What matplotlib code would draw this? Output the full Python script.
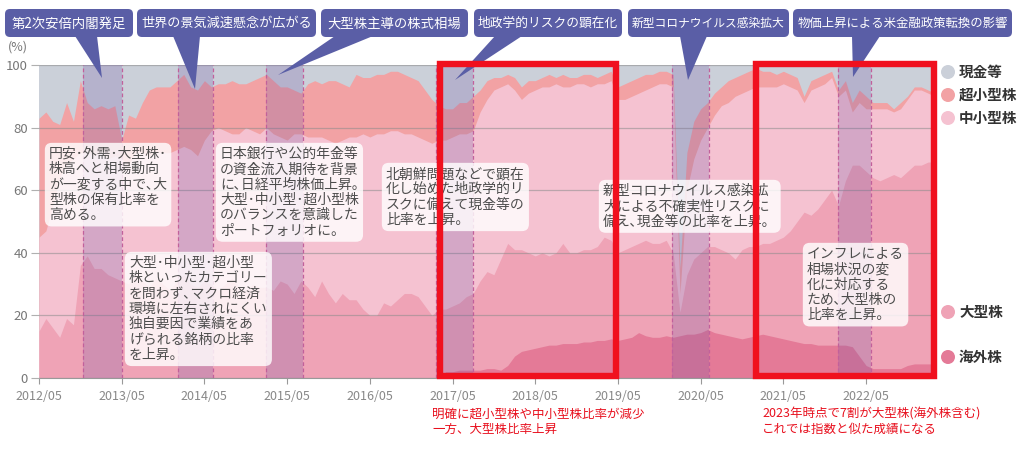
import matplotlib
matplotlib.use("Agg")
import matplotlib.pyplot as plt
from matplotlib.patches import FancyBboxPatch, Polygon, Rectangle, Circle
import numpy as np

plt.rcParams['font.family'] = ['Noto Sans CJK JP', 'DejaVu Sans']

# 月次データ 2012/05 ～ 2023/03 (各資産の積み上げ上端, %)
# 超小型株の上端 (= 100 - 現金等)
edge_cash = [
    83, 85, 82, 81, 88, 82, 95, 88, 86, 87,
    86, 87, 76, 84, 83, 88, 92, 93, 93, 93,
    95, 97, 93, 92, 95, 93, 94, 94, 95, 94,
    94, 95, 96, 97, 95, 93, 93, 92, 91, 94,
    95, 94, 95, 95, 94, 93, 97, 96, 96, 97,
    97, 98, 98, 97, 96, 95, 92, 89, 87, 86,
    86, 88, 88, 90, 92, 95, 96, 96, 97, 96,
    93, 95, 95, 96, 97, 96, 97, 96, 96, 97,
    97, 96, 97, 98, 93, 94, 95, 96, 97, 97,
    98, 98, 97, 35, 72, 82, 86, 88, 91, 93,
    95, 96, 97, 98, 99, 98, 98, 97, 98, 97,
    96, 90, 95, 96, 97, 98, 92, 95, 88, 92,
    90, 88, 88, 88, 86, 88, 90, 93, 93, 92, 91,
]
# 中小型株の上端
edge_chusho = [
    45, 47, 55, 64, 68, 70, 72, 72, 71, 72,
    70, 71, 70, 68, 72, 72, 71, 72, 72, 72,
    73, 74, 73, 71, 76, 79, 80, 79, 78, 78,
    80, 79, 78, 80, 78, 77, 76, 78, 78, 77,
    77, 77, 76, 75, 76, 77, 77, 78, 77, 78,
    78, 79, 79, 78, 78, 77, 76, 75, 76, 76,
    77, 78, 78, 79, 85, 89, 92, 93, 94, 92,
    89, 91, 92, 93, 93, 94, 93, 93, 94, 94,
    93, 94, 94, 95, 89, 89, 90, 91, 92, 93,
    94, 94, 93, 27, 60, 70, 76, 80, 84, 87,
    88, 90, 91, 92, 93, 93, 93, 93, 94, 93,
    92, 88, 92, 93, 94, 96, 90, 92, 85, 88,
    86, 86, 86, 86, 85, 86, 89, 92, 92, 91, 90,
]
# 大型株の上端
edge_ogata = [
    15, 19, 16, 13, 19, 17, 36, 39, 35, 35,
    33, 32, 31, 30, 33, 31, 29, 32, 30, 28,
    31, 33, 30, 29, 31, 30, 28, 30, 32, 29,
    28, 30, 29, 29, 28, 31, 30, 27, 31, 29,
    26, 31, 27, 24, 27, 25, 25, 22, 20, 20,
    24, 23, 25, 27, 27, 26, 23, 20, 22, 22,
    23, 24, 26, 27, 31, 34, 33, 38, 43, 41,
    41, 40, 39, 40, 39, 40, 43, 40, 40, 41,
    41, 42, 45, 44, 40, 41, 42, 43, 44, 43,
    43, 44, 40, 21, 33, 38, 40, 42, 42, 41,
    40, 38, 41, 42, 42, 43, 43, 44, 45, 47,
    50, 53, 52, 54, 57, 60, 55, 63, 68, 68,
    66, 64, 63, 64, 65, 64, 66, 68, 68, 69, 69,
]
# 海外株の上端 (= 海外株比率)
edge_kaigai = [0] * 59 + [
    2, 2, 2.5, 2.5, 2.5, 2.5, 3, 3,
    2.5, 4, 7, 8.5, 9, 9.5, 10, 10.5, 10.5, 11, 11, 11, 11.5, 11.5,
    12, 12, 12.5, 12, 12.5, 13, 14.5, 13.5, 13, 13,
    13.5, 13, 13.5, 14, 14, 14.5, 15.5, 14.5, 14, 13.5,
    13, 12.5, 13, 13.5, 14, 13.5, 13, 12.5, 12, 11.5,
    11, 11, 10.5, 10.5, 10.5, 10.5, 10.5, 10, 7, 4,
    3, 3, 3, 3, 3, 4, 4.5, 4.5, 4.5, 4.5,
]

tick_labels = ["2012/05", "2013/05", "2014/05", "2015/05", "2016/05", "2017/05",
               "2018/05", "2019/05", "2020/05", "2021/05", "2022/05"]

# 網掛け期間 (2012/05 からの月数)
event_periods = [(6.4, 12.1), (20.1, 25.2), (32.9, 38.25), (57.6, 63.0),
                 (91.9, 97.2), (115.9, 120.7)]

series_names = ["現金等", "超小型株", "中小型株", "大型株", "海外株"]
colors = ["#cbd0d9", "#f2a2a4", "#f5c2d1", "#efa3b6", "#e47a97"]

fig = plt.figure(figsize=(10.24, 4.57), dpi=100)
ax = fig.add_axes([39 / 1024, 1 - 378 / 457, (935 - 39) / 1024, (378 - 65) / 457])

x = np.arange(len(edge_cash))
# 上から順に塗り重ねる
ax.fill_between(x, 0, 100, color=colors[0], lw=0, zorder=1)
ax.fill_between(x, 0, edge_cash, color=colors[1], lw=0, zorder=1)
ax.fill_between(x, 0, edge_chusho, color=colors[2], lw=0, zorder=1)
ax.fill_between(x, 0, edge_ogata, color=colors[3], lw=0, zorder=1)
ax.fill_between(x, 0, edge_kaigai, color=colors[4], lw=0, zorder=1)

for s, e in event_periods:
    ax.axvspan(s, e, color="#6f54a3", alpha=0.24, lw=0, zorder=3)
    ax.vlines([s, e], 0, 100, colors="#c2609b", linestyles=(0, (3, 2)), lw=0.9, zorder=4)

ax.set_xlim(0, len(x) - 1)
ax.set_ylim(0, 100)
ax.set_yticks(range(0, 101, 20))
ax.set_xticks(range(0, 121, 12))
ax.set_xticklabels(tick_labels)
ax.grid(axis="y", color="#8c8c8c", lw=0.9, alpha=0.55, zorder=2)
ax.set_axisbelow(False)
for sp in ["top", "right", "left"]:
    ax.spines[sp].set_visible(False)
ax.spines["bottom"].set_color("#999999")
ax.tick_params(axis="y", length=6, color="#b0b0b0", labelsize=9.5, labelcolor="#777777", pad=2)
ax.tick_params(axis="x", length=4, color="#999999", labelsize=9, labelcolor="#888888", pad=5)

# 注釈用オーバーレイ (ピクセル座標)
ov = fig.add_axes([0, 0, 1, 1], zorder=5)
ov.set_xlim(0, 1024)
ov.set_ylim(457, 0)
ov.axis("off")

ov.text(8, 47, "(%)", fontsize=9, color="#777777", va="center")

callout_color = "#5a5ea6"
callouts = [
    ("第2次安倍内閣発足", 5, 133, [(75, 36), (97, 36), (102, 78)]),
    ("世界の景気減速懸念が広がる", 137, 316, [(173, 36), (200, 36), (195, 89)]),
    ("大型株主導の株式相場", 321, 468, [(335, 36), (373, 36), (278, 75)]),
    ("地政学的リスクの顕在化", 474, 622, [(495, 36), (522, 36), (455, 80)]),
    ("新型コロナウイルス感染拡大", 628, 789, [(680, 36), (707, 36), (688, 80)]),
    ("物価上昇による米金融政策転換の影響", 793, 1012, [(852, 36), (880, 36), (853, 77)]),
]
for label, x0, x1, tri in callouts:
    ov.add_patch(Polygon(tri, closed=True, fc=callout_color, ec="none", zorder=2))
    ov.add_patch(FancyBboxPatch((x0, 9), x1 - x0, 28, boxstyle="round,pad=0,rounding_size=5",
                                fc=callout_color, ec="none", zorder=3))
    # 箱の幅に収まる文字サイズ
    n = sum(0.55 if ord(ch) < 128 else 1.0 for ch in label)
    fs = min(9.6, (x1 - x0 - 8) / (n * 1.389))
    ov.text((x0 + x1) / 2, 23.5, label, color="white", fontsize=fs, ha="center", va="center", zorder=4)

notes = [
    (49, 147, "円安･外需･大型株･\n株高へと相場動向\nが一変する中で､大\n型株の保有比率を\n高める。"),
    (129, 256, "大型･中小型･超小型\n株といったカテゴリー\nを問わず､マクロ経済\n環境に左右されにくい\n独自要因で業績をあ\nげられる銘柄の比率\nを上昇。"),
    (220, 147, "日本銀行や公的年金等\nの資金流入期待を背景\nに､日経平均株価上昇｡\n大型･中小型･超小型株\nのバランスを意識した\nポートフォリオに。"),
    (386, 167, "北朝鮮問題などで顕在\n化し始めた地政学的リ\nスクに備えて現金等の\n比率を上昇。"),
    (603, 184, "新型コロナウイルス感染拡\n大による不確実性リスクに\n備え､現金等の比率を上昇。"),
    (807, 247, "インフレによる\n相場状況の変\n化に対応する\nため､大型株の\n比率を上昇。"),
]
for tx, ty, s in notes:
    ov.text(tx, ty, s, fontsize=10, color="#4d4d4d", va="top", ha="left", linespacing=1.12, zorder=6,
            bbox=dict(boxstyle="round,pad=0.3,rounding_size=0.5", fc="white", ec="none", alpha=0.82))

# 赤枠
for rx0, rx1 in [(440, 616), (756, 934)]:
    ov.add_patch(Rectangle((rx0, 64), rx1 - rx0, 312, fill=False, ec="#f0101e", lw=4.6, zorder=8))

ov.text(432, 408, "明確に超小型株や中小型株比率が減少\n一方、大型株比率上昇", color="#e8101e",
        fontsize=9, va="top", ha="left", linespacing=1.15)
ov.text(762, 408, "2023年時点で7割が大型株(海外株含む)\nこれでは指数と似た成績になる", color="#e8101e",
        fontsize=9, va="top", ha="left", linespacing=1.15)

# 凡例
legend_y = [72, 95, 118, 312, 357]
for name, c, ly in zip(series_names, colors, legend_y):
    ov.add_patch(Circle((948, ly), 7, fc=c, ec="none"))
    ov.text(959, ly, name, fontsize=10.5, fontweight="bold", color="#333333", va="center", ha="left")

fig.savefig("out.png", dpi=100)
